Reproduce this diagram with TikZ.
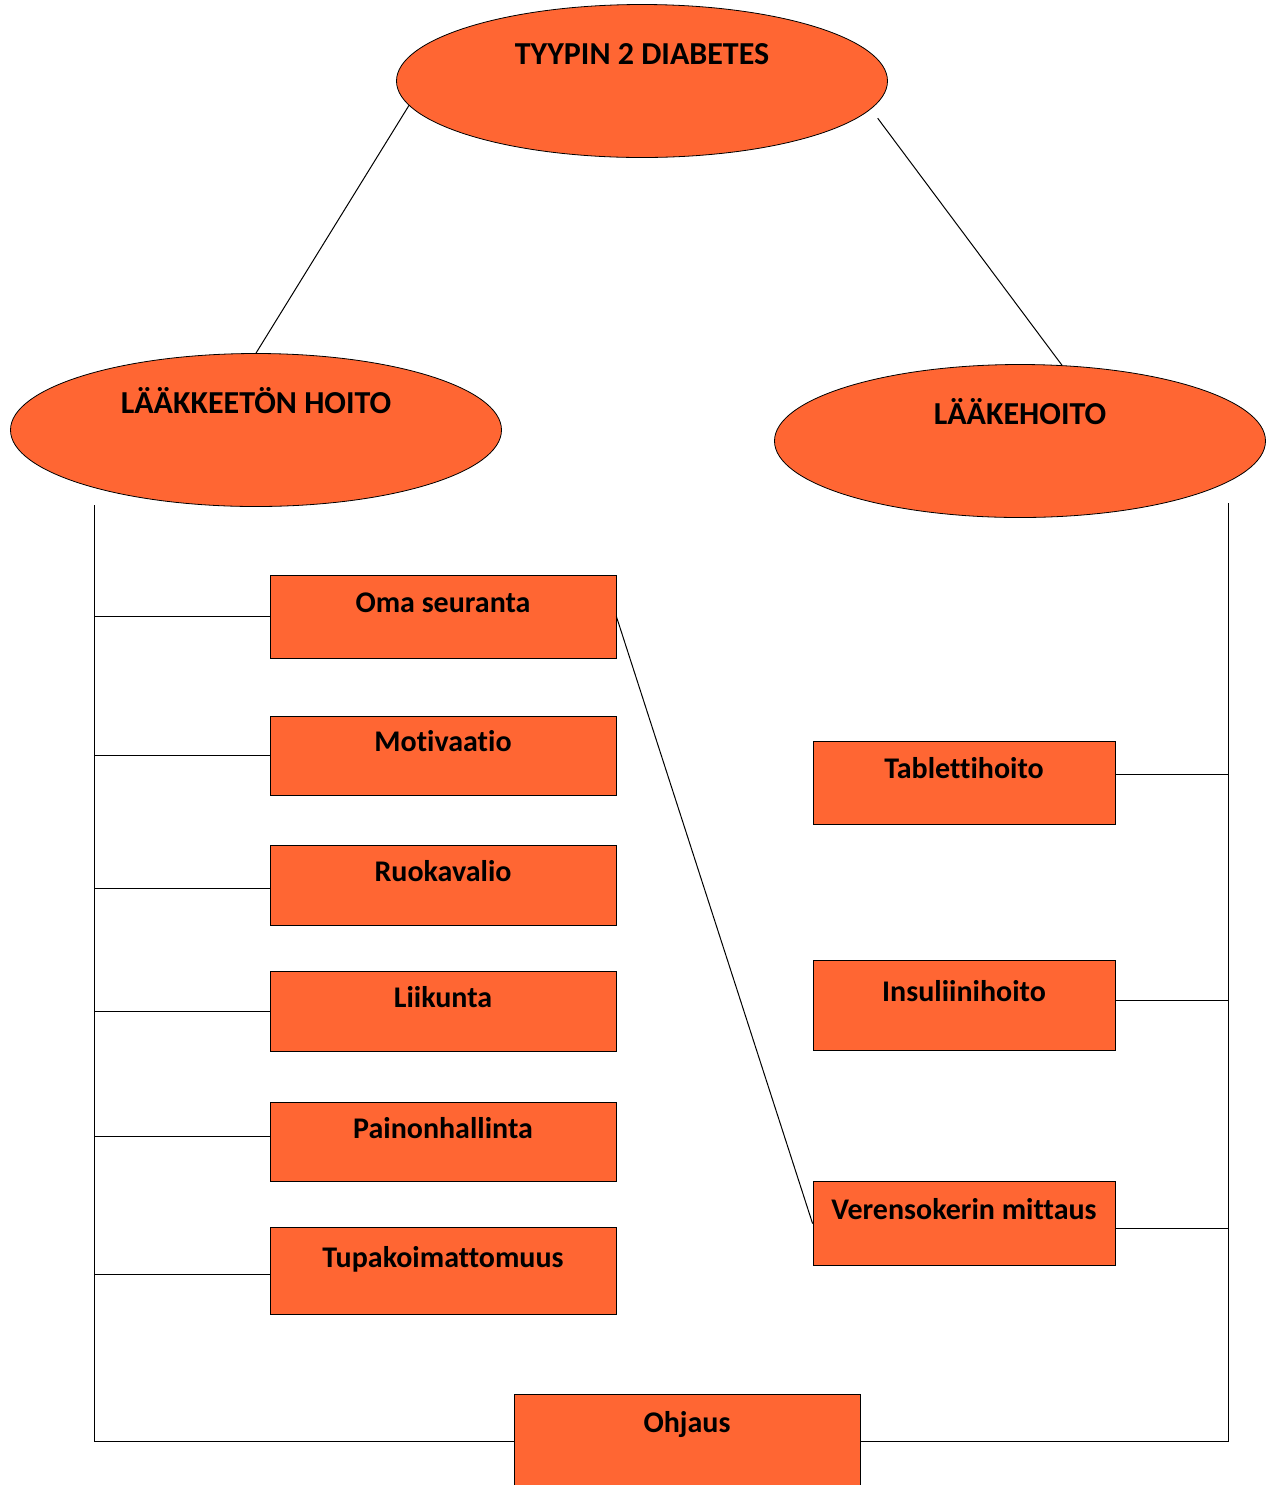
\documentclass[tikz,border=0pt]{standalone}
\usepackage{fontspec}
\setmainfont[Ligatures=NoCommon]{Carlito}
\usetikzlibrary{shapes.geometric, positioning}
\definecolor{dorange}{HTML}{FF6633}

\begin{document}
\begin{tikzpicture}[x=0.5pt, y=-0.5pt,
  oval/.style={ellipse, draw, fill=dorange, inner sep=0pt, minimum width=245.5pt,
               minimum height=76.5pt, font=\bfseries\fontsize{16}{18}\selectfont,
               text height=8pt, text depth=25pt},
  hbox/.style={draw, fill=dorange, inner sep=0pt, minimum width=#1,
               font=\bfseries\fontsize{15}{17}\selectfont, text height=8pt, text depth=12pt},
  link/.style={line width=0.5pt, black},
]
  \useasboundingbox (0,0) rectangle (1268,1485);

  % main nodes
  \node[oval] (t2d)   at (642,81)   {TYYPIN 2 DIABETES};
  \node[oval] (nondrug) at (256,430) {LÄÄKKEETÖN HOITO};
  \node[oval] (drug)  at (1020,441) {LÄÄKEHOITO};

  % left column
  \node[hbox=173pt, minimum height=41.5pt] (oma) at (443,616.5) {Oma seuranta};
  \node[hbox=173pt, minimum height=39.5pt, below=28.75pt of oma] (motiv) {Motivaatio};
  \node[hbox=173pt, minimum height=40pt, below=24.75pt of motiv] (ruoka) {Ruokavalio};
  \node[hbox=173pt, minimum height=40pt, below=22.5pt of ruoka] (liik) {Liikunta};
  \node[hbox=173pt, minimum height=39.5pt, below=25.25pt of liik] (paino) {Painonhallinta};
  \node[hbox=173pt, minimum height=43.5pt, below=22.5pt of paino] (tupak) {Tupakoimattomuus};

  % right column
  \node[hbox=151pt, minimum height=41.5pt] (tabl) at (964,782.5) {Tablettihoito};
  \node[hbox=151pt, minimum height=45pt, below=68pt of tabl] (insul) {Insuliinihoito};
  \node[hbox=151pt, minimum height=42pt, below=65pt of insul] (veren) {Verensokerin mittaus};

  \node[hbox=173pt, minimum height=47pt, text depth=17pt] (ohj) at (687,1441) {Ohjaus};

  \coordinate (lt) at (94,505);
  \coordinate (rt) at (1228,503);

  % connectors
  \draw[link] (t2d.186.4) -- (nondrug.north);
  \draw[link, shorten <=5.7pt] (t2d.-7.3) -- (drug.61.5);
  \draw[link] (lt) |- (ohj.west);
  \draw[link] (rt) |- (ohj.east);
  \foreach \n/\a in {oma/180, motiv/180, ruoka/181, liik/180.5, paino/178.5, tupak/181.5}
    \draw[link] (\n.\a) -- (\n.\a -| lt);
  \foreach \n/\a in {tabl/3.5, insul/2.5, veren/-2}
    \draw[link] (\n.\a) -- (\n.\a -| rt);
  \draw[link] (oma.east) -- (veren.west);
\end{tikzpicture}
\end{document}
